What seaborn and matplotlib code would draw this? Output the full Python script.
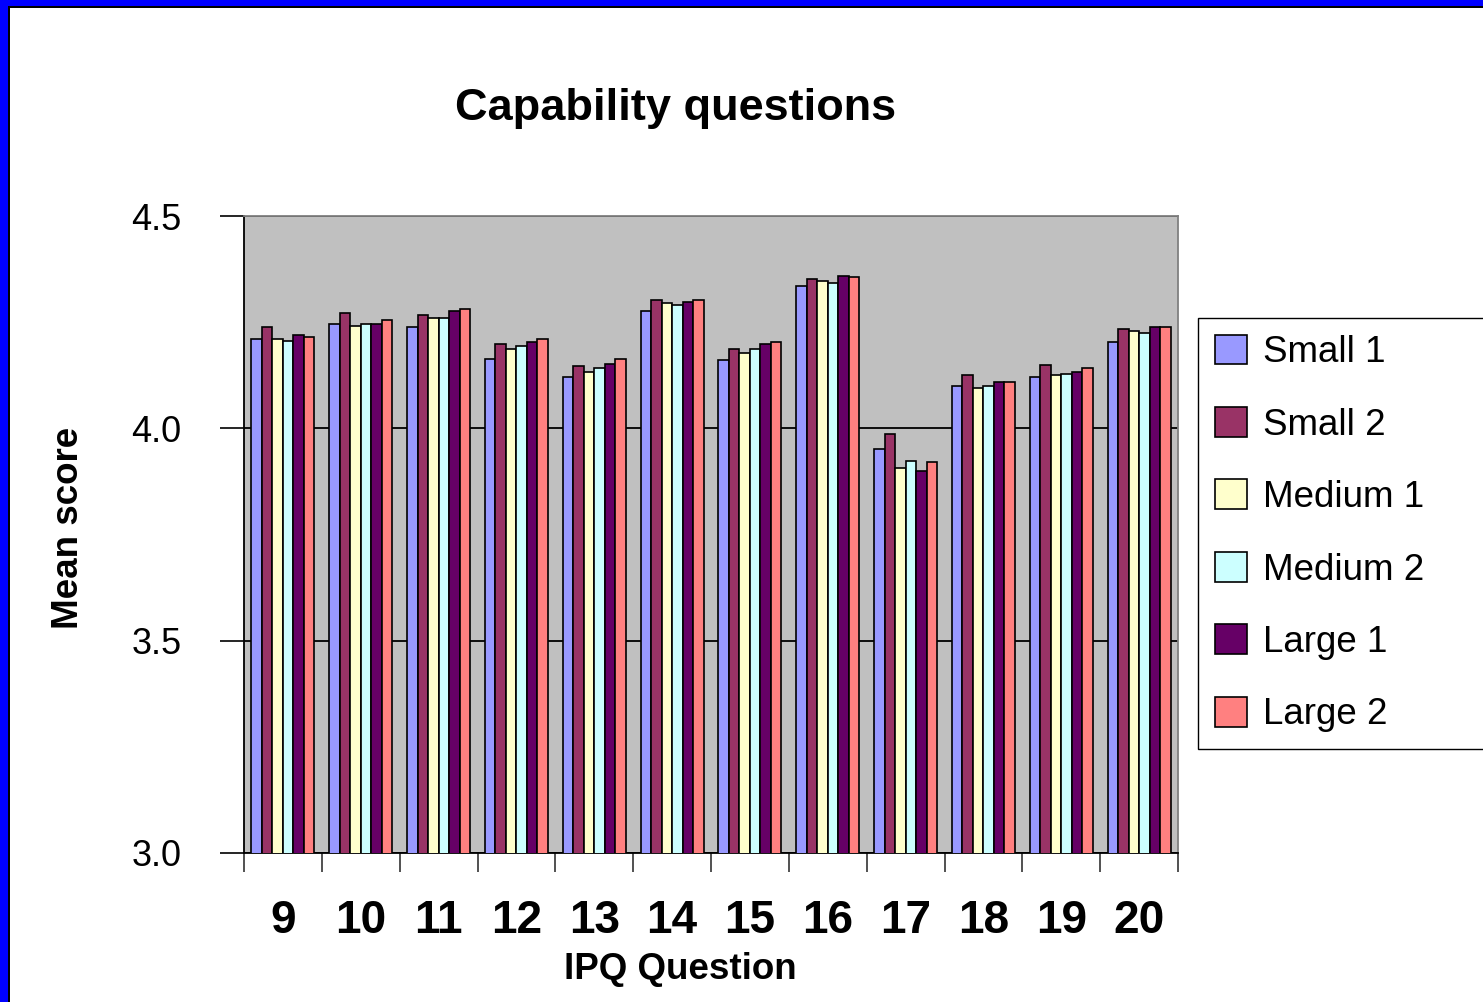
import matplotlib
matplotlib.use("Agg")
import matplotlib.pyplot as plt
from matplotlib.patches import Rectangle
from matplotlib.ticker import FixedLocator, NullFormatter
import pandas as pd
import seaborn as sns

# Mean scores per IPQ question for each company group
questions = ["9", "10", "11", "12", "13", "14", "15", "16", "17", "18", "19", "20"]
series_names = ["Small 1", "Small 2", "Medium 1", "Medium 2", "Large 1", "Large 2"]
small1 = [4.210, 4.246, 4.238, 4.164, 4.120, 4.277, 4.160, 4.334, 3.951, 4.099, 4.120, 4.203]
small2 = [4.238, 4.272, 4.268, 4.199, 4.147, 4.303, 4.186, 4.351, 3.986, 4.125, 4.150, 4.233]
medium1 = [4.210, 4.242, 4.259, 4.186, 4.133, 4.294, 4.177, 4.346, 3.907, 4.094, 4.125, 4.229]
medium2 = [4.206, 4.246, 4.259, 4.195, 4.142, 4.290, 4.186, 4.342, 3.924, 4.099, 4.129, 4.225]
large1 = [4.219, 4.246, 4.277, 4.203, 4.151, 4.298, 4.199, 4.359, 3.900, 4.108, 4.133, 4.238]
large2 = [4.216, 4.255, 4.280, 4.210, 4.164, 4.303, 4.203, 4.356, 3.920, 4.108, 4.141, 4.238]
colors = ["#9999FF", "#993366", "#FFFFCC", "#CCFFFF", "#660066", "#FF8080"]

rows = []
for name, vals in zip(series_names, [small1, small2, medium1, medium2, large1, large2]):
    for q, v in zip(questions, vals):
        rows.append({"Question": q, "Score": v, "Series": name})
df = pd.DataFrame(rows)

sns.set_style("white")
plt.rcParams["font.family"] = ["Liberation Sans", "DejaVu Sans"]
plt.rcParams["text.color"] = "black"
plt.rcParams["axes.labelcolor"] = "black"
plt.rcParams["xtick.color"] = "black"
plt.rcParams["ytick.color"] = "black"

W, H = 1483, 1002
fig = plt.figure(figsize=(W / 100, H / 100), dpi=100)
fig.patch.set_facecolor("white")

ax = fig.add_axes([244 / W, 1 - 853 / H, (1178 - 244) / W, (853 - 216) / H])
ax.set_facecolor("#C0C0C0")

sns.barplot(data=df, x="Question", y="Score", hue="Series", order=questions,
            hue_order=series_names, palette=colors, saturation=1, width=0.81,
            edgecolor="black", linewidth=1.2, ax=ax, zorder=3)

ax.set_ylim(3.0, 4.5)
ax.set_xlim(-0.5, len(questions) - 0.5)
ax.set_yticks([3.0, 3.5, 4.0, 4.5])
ax.set_yticklabels(["3.0", "3.5", "4.0", "4.5"])
ax.yaxis.grid(True, color="black", linewidth=1.3, zorder=0)
ax.set_axisbelow(True)

# Category separators on the x axis
ax.xaxis.set_minor_locator(FixedLocator([i - 0.5 for i in range(len(questions) + 1)]))
ax.xaxis.set_minor_formatter(NullFormatter())
ax.tick_params(axis="x", which="major", length=0, pad=33, labelsize=33,
               labelcolor="black")
ax.tick_params(axis="x", which="minor", length=14, width=1.2, color="#333333",
               direction="out", bottom=True)
ax.tick_params(axis="y", which="major", length=17, width=1.2, color="black",
               direction="out", left=True, pad=28, labelsize=26, labelcolor="black")
for lbl in ax.get_xticklabels():
    lbl.set_fontweight("bold")

for side in ["left", "bottom"]:
    ax.spines[side].set_color("black")
    ax.spines[side].set_linewidth(1.3)
for side in ["top", "right"]:
    ax.spines[side].set_visible(True)
    ax.spines[side].set_color("#808080")
    ax.spines[side].set_linewidth(1.3)

ax.set_xlabel("IPQ Question", fontsize=26.5, fontweight="bold", color="black")
ax.xaxis.set_label_coords((680 - 244) / (1178 - 244), -(952 - 853) / (853 - 216))
ax.set_ylabel("Mean score", fontsize=26.5, fontweight="bold", color="black")
ax.yaxis.set_label_coords(-(244 - 86) / (1178 - 244), 0.51)

ax.set_title("Capability questions", fontsize=32.5, fontweight="bold", color="black",
             x=(676 - 244) / (1178 - 244), y=1 + (216 - 120) / (853 - 216), pad=0)

handles, labels = ax.get_legend_handles_labels()
if ax.get_legend() is not None:
    ax.get_legend().remove()
leg = fig.legend(handles, labels, loc="upper left",
                 bbox_to_anchor=(1198 / W, 1 - 319 / H, 320 / W, 0.001),
                 mode="expand", fontsize=26.5, frameon=True, fancybox=False,
                 edgecolor="black", framealpha=1, facecolor="white",
                 handlelength=0.87, handleheight=0.87, handletextpad=0.45,
                 labelspacing=1.0, borderpad=0.45, borderaxespad=0)
leg.get_frame().set_linewidth(1.0)
for t in leg.get_texts():
    t.set_color("black")

# Blue slide border on the left and top edges with a thin black inner line
fig.patches.append(Rectangle((0, 0), 8 / W, 1, transform=fig.transFigure,
                             facecolor="#0000FF", edgecolor="none", zorder=10))
fig.patches.append(Rectangle((0, 1 - 6 / H), 1, 6 / H, transform=fig.transFigure,
                             facecolor="#0000FF", edgecolor="none", zorder=10))
fig.patches.append(Rectangle((8 / W, 0), 2 / W, 1 - 6 / H, transform=fig.transFigure,
                             facecolor="black", edgecolor="none", zorder=10))
fig.patches.append(Rectangle((8 / W, 1 - 8 / H), 1, 2 / H, transform=fig.transFigure,
                             facecolor="black", edgecolor="none", zorder=10))

fig.savefig("out.png", dpi=100, facecolor="white")
